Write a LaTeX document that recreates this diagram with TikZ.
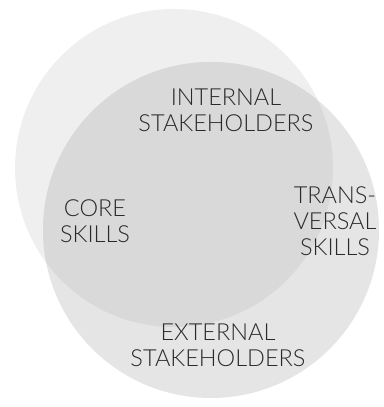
\documentclass[tikz,border=0pt]{standalone}
\usepackage{fontspec}
\setmainfont{Lato}[UprightFont=* Light]

\definecolor{upperfill}{HTML}{EFEFEF}
\definecolor{lowerfill}{HTML}{E5E5E5}
\definecolor{bothfill}{HTML}{D9D9D9}
\definecolor{labeltext}{HTML}{2A2A2A}

\tikzset{
  setlabel/.style={align=center,text=labeltext,inner sep=0pt,
    font=\fontsize{23.5}{26}\selectfont},
}

\begin{document}
\begin{tikzpicture}[x=1pt,y=1pt]

\useasboundingbox (0,0) rectangle (383,407) ;

\coordinate (c_int) at (174,239) ;
\coordinate (c_ext) at (211,177) ;

\fill[upperfill] (c_int) circle (159) ;
\fill[lowerfill] (c_ext) circle (168) ;

\begin{scope}
\clip (c_int) circle (159) ;
\fill[bothfill] (c_ext) circle (168) ;
\end{scope}

\node[setlabel] (internal) at (226,297) {INTERNAL\\STAKEHOLDERS} ;
\node[setlabel] (core) at (95,186) {CORE\\SKILLS} ;
\node[setlabel] (trans) at (335,186) {TRANS-\\VERSAL\\SKILLS} ;
\node[setlabel] (external) at (218,62) {EXTERNAL\\STAKEHOLDERS} ;

\end{tikzpicture}
\end{document}
